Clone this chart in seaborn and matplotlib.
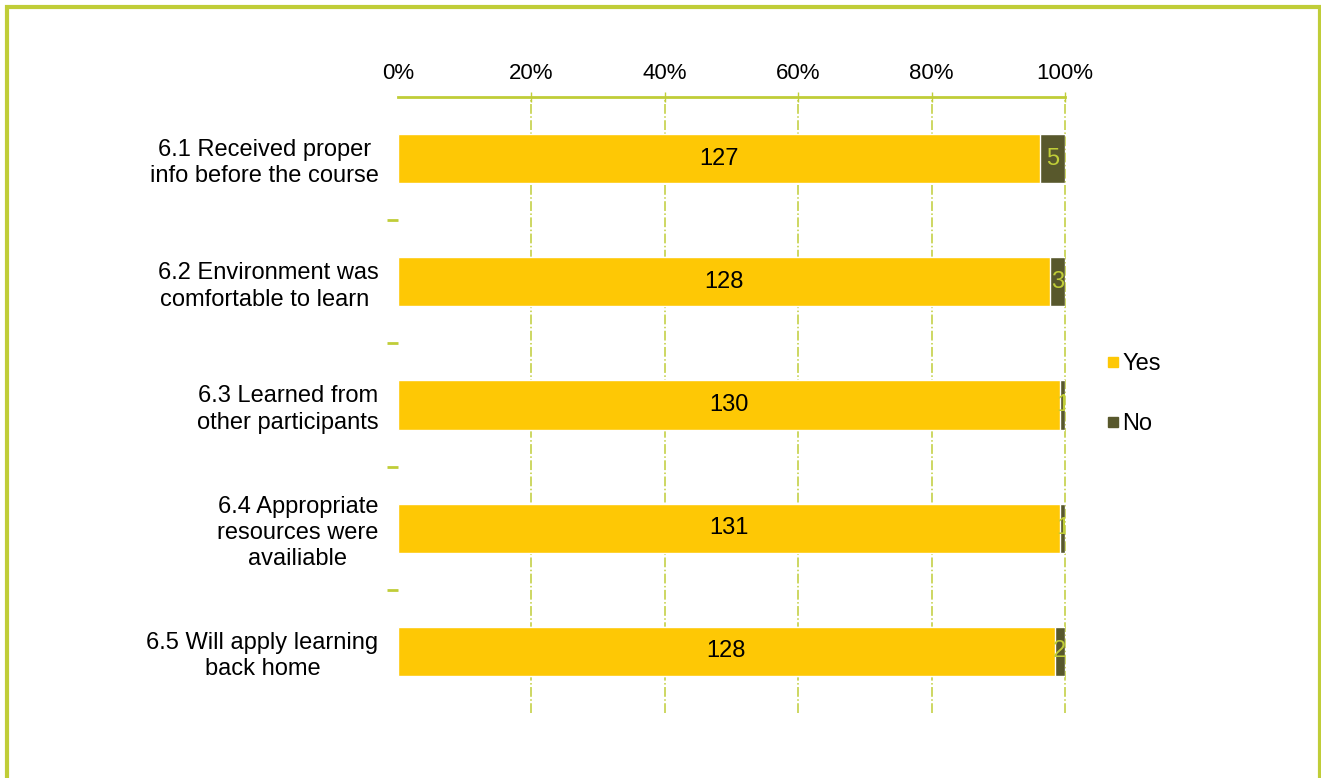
import matplotlib
matplotlib.use("Agg")
import matplotlib.pyplot as plt
import seaborn as sns
import pandas as pd
from matplotlib.patches import Rectangle
from matplotlib.lines import Line2D
from matplotlib.ticker import FixedLocator

categories = [
    "6.1 Received proper\ninfo before the course",
    "6.2 Environment was\ncomfortable to learn ",
    "6.3 Learned from\nother participants",
    "6.4 Appropriate\nresources were\navailiable",
    "6.5 Will apply learning\nback home",
]
yes_counts = [127, 128, 130, 131, 128]
no_counts = [5, 3, 1, 1, 2]
x_ticks = [0, 20, 40, 60, 80, 100]
x_tick_labels = ["0%", "20%", "40%", "60%", "80%", "100%"]
legend_labels = ["Yes", "No"]

YES_C = "#FEC805"
NO_C = "#58582C"
GREEN = "#C0CD38"

sns.set_style("white")
plt.rcParams["font.family"] = ["Liberation Sans", "DejaVu Sans"]
plt.rcParams["text.color"] = "black"

totals = [y + n for y, n in zip(yes_counts, no_counts)]
df = pd.DataFrame({
    "cat": categories,
    "yes_pct": [100 * y / t for y, t in zip(yes_counts, totals)],
    "total_pct": [100.0] * len(categories),
})

fig = plt.figure(figsize=(13.21, 7.78), dpi=100)
ax = fig.add_axes([398 / 1321, 1 - 713 / 778, (1065 - 398) / 1321, (713 - 97) / 778])

sns.barplot(data=df, x="total_pct", y="cat", orient="h", color=NO_C,
            width=0.4, ax=ax, saturation=1)
sns.barplot(data=df, x="yes_pct", y="cat", orient="h", color=YES_C,
            width=0.4, ax=ax, saturation=1)

for i, (yp, yc, nc) in enumerate(zip(df["yes_pct"], yes_counts, no_counts)):
    ax.text(yp / 2, i, str(yc), ha="center", va="center", fontsize=17, color="black")
    ax.text(yp + (100 - yp) / 2, i, str(nc), ha="center", va="center",
            fontsize=17, color=GREEN, clip_on=True)

ax.set_xlim(0, 100)
ax.set_ylim(len(categories) - 0.5, -0.5)
ax.xaxis.tick_top()
ax.set_xticks(x_ticks)
ax.set_xticklabels(x_tick_labels, fontsize=16, color="black")
ax.tick_params(axis="x", which="major", direction="inout", length=7, width=1,
               color=GREEN, pad=6, top=True, bottom=False)
ax.xaxis.get_major_ticks()[0].tick2line.set_visible(False)
ax.set_xlabel("")
ax.set_ylabel("")

ax.set_yticks(range(len(categories)))
ax.set_yticklabels(categories, fontsize=17, color="black",
                   multialignment="center", linespacing=1.25)
ax.tick_params(axis="y", which="major", length=0, pad=14)
ax.yaxis.set_minor_locator(FixedLocator([i + 0.5 for i in range(len(categories) - 1)]))
ax.tick_params(axis="y", which="minor", direction="out", length=8, width=2,
               color=GREEN, left=True)

for x in x_ticks[1:]:
    ax.axvline(x, color=GREEN, lw=1.1, ls="-.", zorder=0, clip_on=False)
ax.set_axisbelow(True)

for s in ["left", "right", "bottom"]:
    ax.spines[s].set_visible(False)
ax.spines["top"].set_visible(True)
ax.spines["top"].set_color(GREEN)
ax.spines["top"].set_linewidth(2)

handles = [Line2D([0], [0], marker="s", ls="", color=YES_C, markersize=7),
           Line2D([0], [0], marker="s", ls="", color=NO_C, markersize=7)]
fig.legend(handles, legend_labels, loc="center left",
           bbox_to_anchor=(1082 / 1321, 1 - 394 / 778), frameon=False,
           fontsize=17, handletextpad=0.0, labelspacing=1.6, handlelength=0.8)

fig.patches.append(Rectangle((6.5 / 1321, -10 / 778), (1319.5 - 6.5) / 1321,
                             (771.5 + 10) / 778, transform=fig.transFigure,
                             fill=False, edgecolor=GREEN, lw=3))

fig.savefig("out.png", dpi=100)
